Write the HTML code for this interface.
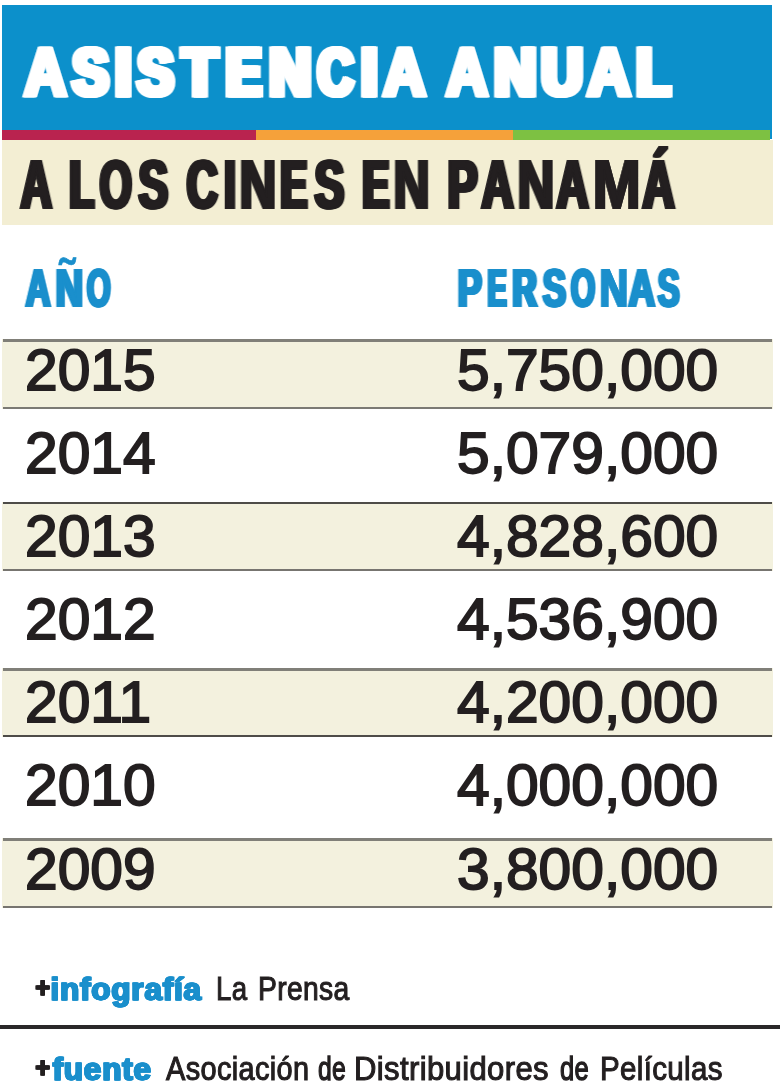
<!DOCTYPE html>
<html lang="es">
<head>
<meta charset="utf-8">
<title>Asistencia anual a los cines en Panam&aacute;</title>
<style>
html,body{margin:0;padding:0;background:#fff;}
body{width:780px;height:1081px;position:relative;overflow:hidden;font-family:"Liberation Sans",sans-serif;}
.abs{position:absolute;}
.t{position:absolute;white-space:nowrap;transform-origin:0 0;line-height:1;}
#blue{left:2px;top:5px;width:770px;height:134px;background:#0c90cb;}
#s1{left:2px;top:129.7px;width:254.2px;height:10px;background:#b9234f;}
#s2{left:256.2px;top:129.7px;width:257px;height:10px;background:#f5a13a;}
#s3{left:513.2px;top:129.7px;width:256.8px;height:10px;background:#7dc142;}
#cream{left:1.6px;top:139.6px;width:771.6px;height:85.2px;background:#f3eed3;}
.rowbg{left:1.6px;width:771px;background:#f3f1de;}
.ln{left:2.6px;width:769.5px;}
.y,.n{font-size:57px;color:#231f20;-webkit-text-stroke:1.8px #231f20;transform:scaleX(1.03);}
.y{left:24.9px;}
.n{left:456.6px;}
#rule{left:0;top:1024.8px;width:780px;height:4.2px;background:#2a2829;}
</style>
</head>
<body>
<div class="abs" id="blue"></div>
<div class="abs" id="s1"></div><div class="abs" id="s2"></div><div class="abs" id="s3"></div>
<div class="abs" id="cream"></div>
<div class="t" style="left:25.27px;top:37.9px;font-size:67.5px;font-weight:bold;color:#fff;-webkit-text-stroke:4.5px #fff;transform:scaleX(0.8515);filter:drop-shadow(1.25px 0 0 #fff) drop-shadow(-1.25px 0 0 #fff);">A</div>
<div class="t" style="left:73.22px;top:38.4px;font-size:67px;font-weight:bold;color:#fff;-webkit-text-stroke:5px #fff;letter-spacing:4.5px;transform:scaleX(0.8039);filter:drop-shadow(2.25px 0 0 #fff) drop-shadow(-2.25px 0 0 #fff);">S</div>
<div class="t" style="left:115.01px;top:38.4px;font-size:67px;font-weight:bold;color:#fff;-webkit-text-stroke:5px #fff;letter-spacing:4.5px;transform:scaleX(0.8940);filter:drop-shadow(2.00px 0 0 #fff) drop-shadow(-2.00px 0 0 #fff);">I</div>
<div class="t" style="left:138.22px;top:38.4px;font-size:67px;font-weight:bold;color:#fff;-webkit-text-stroke:5px #fff;letter-spacing:4.5px;transform:scaleX(0.8039);filter:drop-shadow(2.25px 0 0 #fff) drop-shadow(-2.25px 0 0 #fff);">S</div>
<div class="t" style="left:182.93px;top:38.4px;font-size:67px;font-weight:bold;color:#fff;-webkit-text-stroke:5px #fff;letter-spacing:4.5px;transform:scaleX(0.8460);filter:drop-shadow(2.56px 0 0 #fff) drop-shadow(-2.56px 0 0 #fff);">T</div>
<div class="t" style="left:227.04px;top:38.4px;font-size:67px;font-weight:bold;color:#fff;-webkit-text-stroke:5px #fff;letter-spacing:4.5px;transform:scaleX(0.7638);filter:drop-shadow(3.18px 0 0 #fff) drop-shadow(-3.18px 0 0 #fff);">E</div>
<div class="t" style="left:269.57px;top:38.4px;font-size:67px;font-weight:bold;color:#fff;-webkit-text-stroke:5px #fff;letter-spacing:4.5px;transform:scaleX(0.8565);filter:drop-shadow(2.44px 0 0 #fff) drop-shadow(-2.44px 0 0 #fff);">N</div>
<div class="t" style="left:317.71px;top:38.4px;font-size:67px;font-weight:bold;color:#fff;-webkit-text-stroke:5px #fff;letter-spacing:4.5px;transform:scaleX(0.7364);filter:drop-shadow(2.25px 0 0 #fff) drop-shadow(-2.25px 0 0 #fff);">C</div>
<div class="t" style="left:361.01px;top:38.4px;font-size:67px;font-weight:bold;color:#fff;-webkit-text-stroke:5px #fff;letter-spacing:4.5px;transform:scaleX(0.8940);filter:drop-shadow(2.00px 0 0 #fff) drop-shadow(-2.00px 0 0 #fff);">I</div>
<div class="t" style="left:383.79px;top:37.9px;font-size:67.5px;font-weight:bold;color:#fff;-webkit-text-stroke:4.5px #fff;transform:scaleX(0.8570);filter:drop-shadow(1.25px 0 0 #fff) drop-shadow(-1.25px 0 0 #fff);">A</div>
<div class="t" style="left:447.23px;top:37.9px;font-size:67.5px;font-weight:bold;color:#fff;-webkit-text-stroke:4.5px #fff;transform:scaleX(0.8386);filter:drop-shadow(1.25px 0 0 #fff) drop-shadow(-1.25px 0 0 #fff);">A</div>
<div class="t" style="left:494.57px;top:38.4px;font-size:67px;font-weight:bold;color:#fff;-webkit-text-stroke:5px #fff;letter-spacing:4.5px;transform:scaleX(0.8565);filter:drop-shadow(2.44px 0 0 #fff) drop-shadow(-2.44px 0 0 #fff);">N</div>
<div class="t" style="left:542.24px;top:38.4px;font-size:67px;font-weight:bold;color:#fff;-webkit-text-stroke:5px #fff;letter-spacing:4.5px;transform:scaleX(0.8462);filter:drop-shadow(2.56px 0 0 #fff) drop-shadow(-2.56px 0 0 #fff);">U</div>
<div class="t" style="left:587.85px;top:37.9px;font-size:67.5px;font-weight:bold;color:#fff;-webkit-text-stroke:4.5px #fff;transform:scaleX(0.8754);filter:drop-shadow(1.25px 0 0 #fff) drop-shadow(-1.25px 0 0 #fff);">A</div>
<div class="t" style="left:636.84px;top:38.4px;font-size:67px;font-weight:bold;color:#fff;-webkit-text-stroke:5px #fff;letter-spacing:4.5px;transform:scaleX(0.8226);filter:drop-shadow(2.84px 0 0 #fff) drop-shadow(-2.84px 0 0 #fff);">L</div>
<div class="t" style="left:20.61px;top:150px;font-size:68px;font-weight:bold;color:#231f20;-webkit-text-stroke:2px #231f20;letter-spacing:1px;transform:scaleX(0.6352);filter:drop-shadow(2.50px 0 0 #231f20) drop-shadow(-2.50px 0 0 #231f20);">A</div>
<div class="t" style="left:69.76px;top:150px;font-size:68px;font-weight:bold;color:#231f20;-webkit-text-stroke:2px #231f20;letter-spacing:1px;transform:scaleX(0.5809);filter:drop-shadow(3.25px 0 0 #231f20) drop-shadow(-3.25px 0 0 #231f20);">L</div>
<div class="t" style="left:100.22px;top:150px;font-size:68px;font-weight:bold;color:#231f20;-webkit-text-stroke:2px #231f20;letter-spacing:1px;transform:scaleX(0.6091);filter:drop-shadow(2.50px 0 0 #231f20) drop-shadow(-2.50px 0 0 #231f20);">O</div>
<div class="t" style="left:138.85px;top:150px;font-size:68px;font-weight:bold;color:#231f20;-webkit-text-stroke:2px #231f20;letter-spacing:1px;transform:scaleX(0.6489);filter:drop-shadow(2.50px 0 0 #231f20) drop-shadow(-2.50px 0 0 #231f20);">S</div>
<div class="t" style="left:186.94px;top:150px;font-size:68px;font-weight:bold;color:#231f20;-webkit-text-stroke:2px #231f20;letter-spacing:1px;transform:scaleX(0.6317);filter:drop-shadow(2.50px 0 0 #231f20) drop-shadow(-2.50px 0 0 #231f20);">C</div>
<div class="t" style="left:224.75px;top:150px;font-size:68px;font-weight:bold;color:#231f20;-webkit-text-stroke:2px #231f20;letter-spacing:1px;transform:scaleX(0.5589);filter:drop-shadow(3.19px 0 0 #231f20) drop-shadow(-3.19px 0 0 #231f20);">I</div>
<div class="t" style="left:239.55px;top:150px;font-size:68px;font-weight:bold;color:#231f20;-webkit-text-stroke:2px #231f20;letter-spacing:1px;transform:scaleX(0.7437);filter:drop-shadow(1.30px 0 0 #231f20) drop-shadow(-1.30px 0 0 #231f20);">N</div>
<div class="t" style="left:281.46px;top:150px;font-size:68px;font-weight:bold;color:#231f20;-webkit-text-stroke:2px #231f20;letter-spacing:1px;transform:scaleX(0.5796);filter:drop-shadow(3.25px 0 0 #231f20) drop-shadow(-3.25px 0 0 #231f20);">E</div>
<div class="t" style="left:315.05px;top:150px;font-size:68px;font-weight:bold;color:#231f20;-webkit-text-stroke:2px #231f20;letter-spacing:1px;transform:scaleX(0.6510);filter:drop-shadow(2.48px 0 0 #231f20) drop-shadow(-2.48px 0 0 #231f20);">S</div>
<div class="t" style="left:362.76px;top:150px;font-size:68px;font-weight:bold;color:#231f20;-webkit-text-stroke:2px #231f20;letter-spacing:1px;transform:scaleX(0.5796);filter:drop-shadow(3.25px 0 0 #231f20) drop-shadow(-3.25px 0 0 #231f20);">E</div>
<div class="t" style="left:394.37px;top:150px;font-size:68px;font-weight:bold;color:#231f20;-webkit-text-stroke:2px #231f20;letter-spacing:1px;transform:scaleX(0.7305);filter:drop-shadow(1.43px 0 0 #231f20) drop-shadow(-1.43px 0 0 #231f20);">N</div>
<div class="t" style="left:448.33px;top:150px;font-size:68px;font-weight:bold;color:#231f20;-webkit-text-stroke:2px #231f20;letter-spacing:1px;transform:scaleX(0.6601);filter:drop-shadow(2.73px 0 0 #231f20) drop-shadow(-2.73px 0 0 #231f20);">P</div>
<div class="t" style="left:481.94px;top:150px;font-size:68px;font-weight:bold;color:#231f20;-webkit-text-stroke:2px #231f20;letter-spacing:1px;transform:scaleX(0.6481);filter:drop-shadow(2.34px 0 0 #231f20) drop-shadow(-2.34px 0 0 #231f20);">A</div>
<div class="t" style="left:517.55px;top:150px;font-size:68px;font-weight:bold;color:#231f20;-webkit-text-stroke:2px #231f20;letter-spacing:1px;transform:scaleX(0.7437);filter:drop-shadow(1.30px 0 0 #231f20) drop-shadow(-1.30px 0 0 #231f20);">N</div>
<div class="t" style="left:557.44px;top:150px;font-size:68px;font-weight:bold;color:#231f20;-webkit-text-stroke:2px #231f20;letter-spacing:1px;transform:scaleX(0.6481);filter:drop-shadow(2.34px 0 0 #231f20) drop-shadow(-2.34px 0 0 #231f20);">A</div>
<div class="t" style="left:592.80px;top:150px;font-size:68px;font-weight:bold;color:#231f20;-webkit-text-stroke:2px #231f20;letter-spacing:1px;transform:scaleX(0.8500);filter:drop-shadow(0.41px 0 0 #231f20) drop-shadow(-0.41px 0 0 #231f20);">M</div>
<div class="t" style="left:642.94px;top:150px;font-size:68px;font-weight:bold;color:#231f20;-webkit-text-stroke:2px #231f20;letter-spacing:1px;transform:scaleX(0.6481);filter:drop-shadow(2.34px 0 0 #231f20) drop-shadow(-2.34px 0 0 #231f20);">&Aacute;</div>
<div class="t" style="left:25.82px;top:261.6px;font-size:52px;font-weight:bold;color:#1a8fcc;-webkit-text-stroke:2px #1a8fcc;letter-spacing:2.5px;transform:scaleX(0.6607);filter:drop-shadow(1.10px 0 0 #1a8fcc) drop-shadow(-1.10px 0 0 #1a8fcc);">A</div>
<div class="t" style="left:56.20px;top:261.6px;font-size:52px;font-weight:bold;color:#1a8fcc;-webkit-text-stroke:2px #1a8fcc;letter-spacing:2.5px;transform:scaleX(0.7296);filter:drop-shadow(1.19px 0 0 #1a8fcc) drop-shadow(-1.19px 0 0 #1a8fcc);">N</div>
<div class="t" style="left:58.98px;top:251.0px;font-size:52px;font-weight:bold;color:#1a8fcc;-webkit-text-stroke:0.6px #1a8fcc;transform:scaleX(0.8810);">&#732;</div>
<div class="t" style="left:87.29px;top:261.6px;font-size:52px;font-weight:bold;color:#1a8fcc;-webkit-text-stroke:2px #1a8fcc;letter-spacing:2.5px;transform:scaleX(0.5942);filter:drop-shadow(1.75px 0 0 #1a8fcc) drop-shadow(-1.75px 0 0 #1a8fcc);">O</div>
<div class="t" style="left:458.00px;top:261.6px;font-size:52px;font-weight:bold;color:#1a8fcc;-webkit-text-stroke:2px #1a8fcc;letter-spacing:2.5px;transform:scaleX(0.7000);filter:drop-shadow(1.79px 0 0 #1a8fcc) drop-shadow(-1.79px 0 0 #1a8fcc);">P</div>
<div class="t" style="left:488.04px;top:261.6px;font-size:52px;font-weight:bold;color:#1a8fcc;-webkit-text-stroke:2px #1a8fcc;letter-spacing:2.5px;transform:scaleX(0.5405);filter:drop-shadow(2.50px 0 0 #1a8fcc) drop-shadow(-2.50px 0 0 #1a8fcc);">E</div>
<div class="t" style="left:513.14px;top:261.6px;font-size:52px;font-weight:bold;color:#1a8fcc;-webkit-text-stroke:2px #1a8fcc;letter-spacing:2.5px;transform:scaleX(0.6377);filter:drop-shadow(2.42px 0 0 #1a8fcc) drop-shadow(-2.42px 0 0 #1a8fcc);">R</div>
<div class="t" style="left:542.55px;top:261.6px;font-size:52px;font-weight:bold;color:#1a8fcc;-webkit-text-stroke:2px #1a8fcc;letter-spacing:2.5px;transform:scaleX(0.6757);filter:drop-shadow(1.75px 0 0 #1a8fcc) drop-shadow(-1.75px 0 0 #1a8fcc);">S</div>
<div class="t" style="left:570.61px;top:261.6px;font-size:52px;font-weight:bold;color:#1a8fcc;-webkit-text-stroke:2px #1a8fcc;letter-spacing:2.5px;transform:scaleX(0.6063);filter:drop-shadow(1.75px 0 0 #1a8fcc) drop-shadow(-1.75px 0 0 #1a8fcc);">O</div>
<div class="t" style="left:599.75px;top:261.6px;font-size:52px;font-weight:bold;color:#1a8fcc;-webkit-text-stroke:2px #1a8fcc;letter-spacing:2.5px;transform:scaleX(0.7539);filter:drop-shadow(0.67px 0 0 #1a8fcc) drop-shadow(-0.67px 0 0 #1a8fcc);">N</div>
<div class="t" style="left:629.40px;top:261.6px;font-size:52px;font-weight:bold;color:#1a8fcc;-webkit-text-stroke:2px #1a8fcc;letter-spacing:2.5px;transform:scaleX(0.6978);filter:drop-shadow(1.10px 0 0 #1a8fcc) drop-shadow(-1.10px 0 0 #1a8fcc);">A</div>
<div class="t" style="left:657.86px;top:261.6px;font-size:52px;font-weight:bold;color:#1a8fcc;-webkit-text-stroke:2px #1a8fcc;letter-spacing:2.5px;transform:scaleX(0.6324);filter:drop-shadow(1.75px 0 0 #1a8fcc) drop-shadow(-1.75px 0 0 #1a8fcc);">S</div>
<div class="t" style="left:36.10px;top:974.9px;font-size:27px;font-weight:bold;color:#231f20;-webkit-text-stroke:1.1px #231f20;transform:scaleX(0.9031);filter:drop-shadow(0.30px 0 0 #231f20) drop-shadow(-0.30px 0 0 #231f20);">+</div>
<div class="t" style="left:51.46px;top:972.5px;font-size:32px;font-weight:bold;color:#1a8fcc;-webkit-text-stroke:1.0px #1a8fcc;letter-spacing:0.8px;transform:scaleX(0.9840);filter:drop-shadow(0.80px 0 0 #1a8fcc) drop-shadow(-0.80px 0 0 #1a8fcc);">infograf&iacute;a</div>
<div class="t" style="left:216.38px;top:971.5px;font-size:33px;font-weight:normal;color:#231f20;-webkit-text-stroke:1.1px #231f20;letter-spacing:0.4px;transform:scaleX(0.8368);">La</div>
<div class="t" style="left:257.84px;top:971.5px;font-size:33px;font-weight:normal;color:#231f20;-webkit-text-stroke:1.1px #231f20;letter-spacing:0.4px;transform:scaleX(0.8560);">Prensa</div>
<div class="t" style="left:36.10px;top:1054.9px;font-size:27px;font-weight:bold;color:#231f20;-webkit-text-stroke:1.1px #231f20;transform:scaleX(0.9031);filter:drop-shadow(0.30px 0 0 #231f20) drop-shadow(-0.30px 0 0 #231f20);">+</div>
<div class="t" style="left:52.99px;top:1052.5px;font-size:32px;font-weight:bold;color:#1a8fcc;-webkit-text-stroke:1.0px #1a8fcc;letter-spacing:0.8px;transform:scaleX(0.9851);filter:drop-shadow(0.80px 0 0 #1a8fcc) drop-shadow(-0.80px 0 0 #1a8fcc);">fuente</div>
<div class="t" style="left:166.31px;top:1051.5px;font-size:33px;font-weight:normal;color:#231f20;-webkit-text-stroke:1.1px #231f20;letter-spacing:0.4px;transform:scaleX(0.8764);">Asociaci&oacute;n</div>
<div class="t" style="left:318.27px;top:1051.5px;font-size:33px;font-weight:normal;color:#231f20;-webkit-text-stroke:1.4px #231f20;letter-spacing:0.4px;transform:scaleX(0.7476);">de</div>
<div class="t" style="left:354.18px;top:1051.5px;font-size:33px;font-weight:normal;color:#231f20;-webkit-text-stroke:1.1px #231f20;letter-spacing:0.4px;transform:scaleX(0.9403);">Distribuidores</div>
<div class="t" style="left:559.65px;top:1051.5px;font-size:33px;font-weight:normal;color:#231f20;-webkit-text-stroke:1.4px #231f20;letter-spacing:0.4px;transform:scaleX(0.7728);">de</div>
<div class="t" style="left:599.97px;top:1051.5px;font-size:33px;font-weight:normal;color:#231f20;-webkit-text-stroke:1.1px #231f20;letter-spacing:0.4px;transform:scaleX(0.8937);">Pel&iacute;culas</div>

<div class="abs rowbg" style="top:339.4px;height:70.0px"></div>
<div class="abs ln" style="top:339.4px;height:3.0px;background:#807f78"></div>
<div class="abs ln" style="top:406.6px;height:2.8px;background:#7b7a74"></div>
<div class="abs rowbg" style="top:501.8px;height:69.7px"></div>
<div class="abs ln" style="top:501.8px;height:2.4px;background:#4e4c48"></div>
<div class="abs ln" style="top:568.7px;height:2.8px;background:#777570"></div>
<div class="abs rowbg" style="top:667.9px;height:69.1px"></div>
<div class="abs ln" style="top:667.9px;height:3.1px;background:#807f78"></div>
<div class="abs ln" style="top:734.6px;height:2.4px;background:#4e4c48"></div>
<div class="abs rowbg" style="top:838.2px;height:70.3px"></div>
<div class="abs ln" style="top:838.2px;height:3.0px;background:#807f78"></div>
<div class="abs ln" style="top:905.7px;height:2.8px;background:#777570"></div>

<div class="t y" style="top:341.8px">2015</div><div class="t n" style="top:341.8px">5,750,000</div>
<div class="t y" style="top:425px">2014</div><div class="t n" style="top:425px">5,079,000</div>
<div class="t y" style="top:508.4px">2013</div><div class="t n" style="top:508.4px">4,828,600</div>
<div class="t y" style="top:591px">2012</div><div class="t n" style="top:591px">4,536,900</div>
<div class="t y" style="top:674.4px">2011</div><div class="t n" style="top:674.4px">4,200,000</div>
<div class="t y" style="top:757px">2010</div><div class="t n" style="top:757px">4,000,000</div>
<div class="t y" style="top:841px">2009</div><div class="t n" style="top:841px">3,800,000</div>

<div class="abs" id="rule"></div>
</body>
</html>
